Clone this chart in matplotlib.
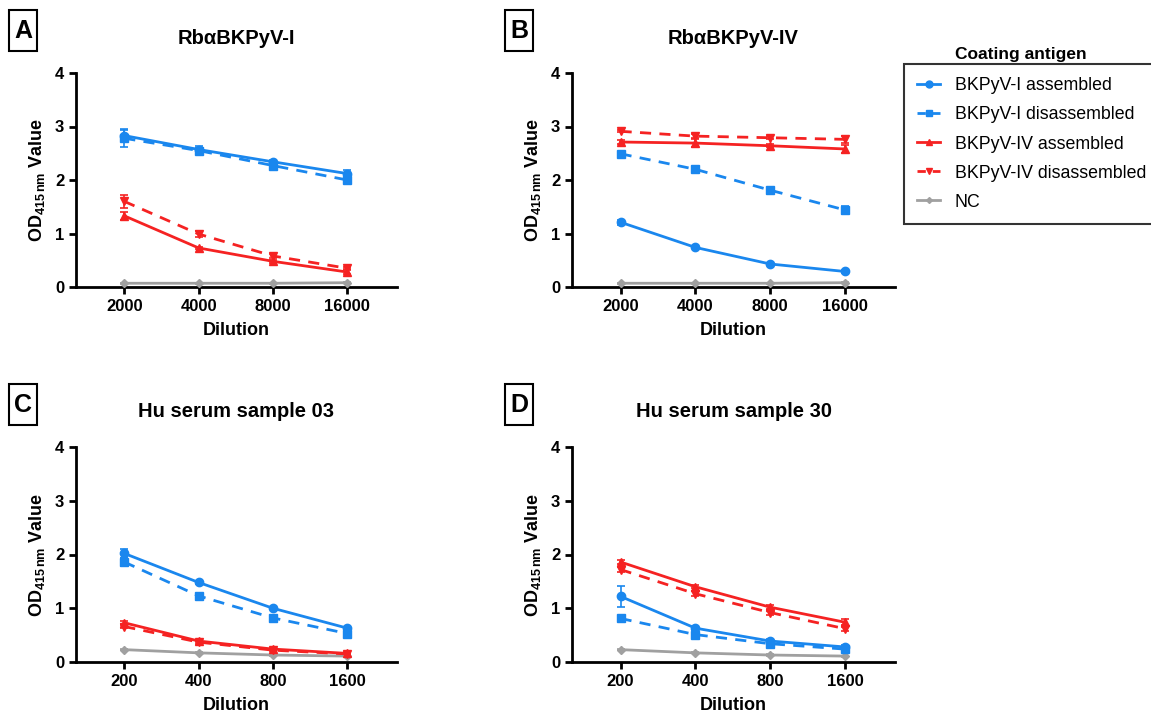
import matplotlib.pyplot as plt
from matplotlib.lines import Line2D
from matplotlib.patches import Rectangle
import numpy as np

plt.rcParams['font.family'] = ['Liberation Sans', 'DejaVu Sans']
plt.rcParams['mathtext.fontset'] = 'custom'
plt.rcParams['mathtext.bf'] = 'Liberation Sans:bold'
plt.rcParams['mathtext.rm'] = 'Liberation Sans'

series_names = ['BKPyV-I assembled', 'BKPyV-I disassembled',
                'BKPyV-IV assembled', 'BKPyV-IV disassembled', 'NC']
colors = ['#1a87ee', '#1a87ee', '#f52222', '#f52222', '#a0a0a0']
styles = ['-', '--', '-', '--', '-']
markers = ['o', 's', '^', 'v', 'D']
msizes = [6, 6, 6, 6, 4]

dil_rb = ['2000', '4000', '8000', '16000']
dil_hu = ['200', '400', '800', '1600']

# panel A: RbaBKPyV-I
a_vals = [[2.83, 2.57, 2.34, 2.12],
          [2.78, 2.55, 2.27, 2.00],
          [1.33, 0.73, 0.48, 0.28],
          [1.60, 0.99, 0.58, 0.35],
          [0.07, 0.07, 0.07, 0.08]]
a_err = [[0.10, 0.07, 0.03, 0.07],
         [0.17, 0.05, 0.04, 0.05],
         [0.08, 0.02, 0.03, 0.04],
         [0.12, 0.05, 0.03, 0.02],
         [0.01, 0.01, 0.01, 0.01]]
# panel B: RbaBKPyV-IV
b_vals = [[1.21, 0.74, 0.43, 0.29],
          [2.49, 2.20, 1.81, 1.44],
          [2.71, 2.69, 2.64, 2.58],
          [2.91, 2.82, 2.79, 2.76],
          [0.07, 0.07, 0.07, 0.08]]
b_err = [[0.05, 0.02, 0.02, 0.02],
         [0.03, 0.03, 0.03, 0.08],
         [0.03, 0.08, 0.03, 0.08],
         [0.02, 0.04, 0.03, 0.06],
         [0.01, 0.01, 0.01, 0.01]]
# panel C: Hu serum 03
c_vals = [[2.02, 1.48, 1.00, 0.63],
          [1.86, 1.23, 0.82, 0.53],
          [0.73, 0.39, 0.24, 0.16],
          [0.66, 0.37, 0.22, 0.15],
          [0.23, 0.17, 0.13, 0.11]]
c_err = [[0.08, 0.02, 0.02, 0.03],
         [0.07, 0.03, 0.03, 0.04],
         [0.03, 0.02, 0.02, 0.02],
         [0.03, 0.03, 0.02, 0.02],
         [0.01, 0.01, 0.01, 0.01]]
# panel D: Hu serum 30
d_vals = [[1.22, 0.63, 0.39, 0.28],
          [0.81, 0.51, 0.34, 0.24],
          [1.86, 1.40, 1.02, 0.74],
          [1.72, 1.27, 0.92, 0.62],
          [0.23, 0.17, 0.13, 0.11]]
d_err = [[0.20, 0.03, 0.03, 0.03],
         [0.03, 0.03, 0.03, 0.03],
         [0.03, 0.03, 0.04, 0.06],
         [0.04, 0.05, 0.04, 0.04],
         [0.01, 0.01, 0.01, 0.01]]

W, H = 1151, 717
fig = plt.figure(figsize=(W / 100, H / 100), dpi=100)

panels = [
    ('A', 'RbαBKPyV-I', dil_rb, a_vals, a_err, (76, 397, 73, 287)),
    ('B', 'RbαBKPyV-IV', dil_rb, b_vals, b_err, (572, 895, 73, 287)),
    ('C', 'Hu serum sample 03', dil_hu, c_vals, c_err, (76, 397, 447, 662)),
    ('D', 'Hu serum sample 30', dil_hu, d_vals, d_err, (572, 895, 447, 662)),
]

for letter, title, dil, vals, errs, (x0, x1, y0, y1) in panels:
    ax = fig.add_axes([x0 / W, 1 - y1 / H, (x1 - x0) / W, (y1 - y0) / H])
    x = np.arange(len(dil))
    for i in range(5):
        ax.errorbar(x, vals[i], yerr=errs[i], color=colors[i], ls=styles[i],
                    lw=2, marker=markers[i], ms=msizes[i], capsize=3,
                    elinewidth=1.2, capthick=1.2,
                    dashes=(4, 3) if styles[i] == '--' else (None, None),
                    zorder=3 + (4 - i) * 0.1)
    ax.set_xlim(-0.65, 3.67)
    ax.set_ylim(0, 4)
    ax.set_yticks([0, 1, 2, 3, 4])
    ax.set_xticks(x)
    ax.set_xticklabels(dil)
    for s in ['top', 'right']:
        ax.spines[s].set_visible(False)
    for s in ['left', 'bottom']:
        ax.spines[s].set_linewidth(2)
    ax.tick_params(width=2, length=5, labelsize=12)
    for lab in ax.get_xticklabels() + ax.get_yticklabels():
        lab.set_fontweight('bold')
    ax.set_xlabel('Dilution', fontsize=13, fontweight='bold', labelpad=6)
    ax.set_ylabel(r'$\mathbf{OD_{415\,nm}}$ Value', fontsize=13, fontweight='bold', labelpad=6)
    cx = (x0 + x1) / 2
    ty = 38 if y0 < 300 else 412
    fig.text(cx / W, 1 - ty / H, title, ha='center', va='center', fontsize=14.5, fontweight='bold')
    # boxed panel letter
    bx = 9 if x0 < 300 else 505
    by = 10 if y0 < 300 else 384
    fig.patches.append(Rectangle((bx / W, 1 - (by + 41) / H), 28 / W, 41 / H,
                                 transform=fig.transFigure, fill=False, ec='black', lw=1.5))
    fig.text((bx + 14) / W, 1 - (by + 21) / H, letter, ha='center', va='center',
             fontsize=18, fontweight='bold')

handles = [Line2D([], [], color=colors[i], ls=styles[i], lw=2, marker=markers[i],
                  ms=msizes[i] - 1, dashes=(3, 2.5) if styles[i] == '--' else (None, None))
           for i in range(5)]
leg = fig.legend(handles, series_names, loc='upper left',
                 bbox_to_anchor=(904 / W, 1 - 64 / H), borderaxespad=0,
                 fontsize=12.8, frameon=True, fancybox=False, edgecolor='black',
                 handlelength=1.3, handletextpad=0.8, labelspacing=0.68, borderpad=0.75)
leg.get_frame().set_linewidth(1.5)
fig.text(1021 / W, 1 - 55 / H, 'Coating antigen', ha='center', va='center',
         fontsize=12.5, fontweight='bold')

fig.savefig('out.png', dpi=100)
